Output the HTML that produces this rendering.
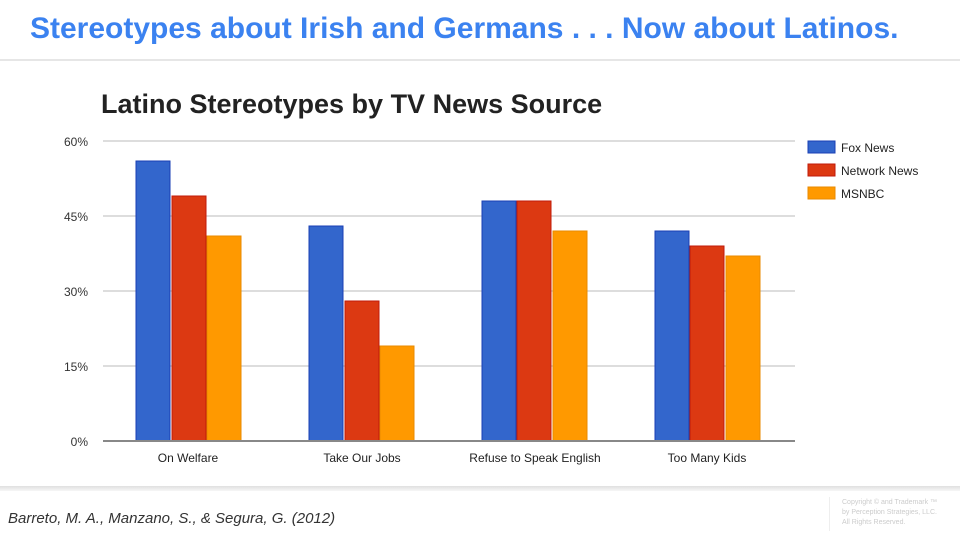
<!DOCTYPE html>
<html><head><meta charset="utf-8"><style>
body{margin:0;width:960px;height:540px;overflow:hidden;background:#fff;font-family:"Liberation Sans",sans-serif;position:relative}
.a{position:absolute}
</style></head><body>
<div class="a" style="left:30px;top:12px;font-size:30px;font-weight:bold;color:#3b82f0;white-space:nowrap">Stereotypes about Irish and Germans . . . Now about Latinos.</div>
<div class="a" style="left:0;top:59px;width:960px;height:2px;background:#e6e6e6"></div>
<svg class="a" style="left:0;top:0" width="960" height="540">
<text x="101" y="113" font-size="27" font-weight="bold" fill="#222" font-family="Liberation Sans">Latino Stereotypes by TV News Source</text>
<g stroke="#ddd" stroke-width="2">
<line x1="103" x2="795" y1="141" y2="141"/><line x1="103" x2="795" y1="216" y2="216"/>
<line x1="103" x2="795" y1="291" y2="291"/><line x1="103" x2="795" y1="366" y2="366"/>
</g>
<g font-size="12" fill="#333" text-anchor="end" font-family="Liberation Sans">
<text x="88" y="146">60%</text><text x="88" y="221">45%</text><text x="88" y="296">30%</text><text x="88" y="371">15%</text><text x="88" y="446">0%</text>
</g>
<g stroke-width="1">
<rect x="136" y="161" width="34" height="280" fill="#3366cc" stroke="#1a3fb5"/>
<rect x="172" y="196" width="34" height="245" fill="#dc3912" stroke="#c01a0a"/>
<rect x="207" y="236" width="34" height="205" fill="#ff9900" stroke="#e88a00"/>
<rect x="309" y="226" width="34" height="215" fill="#3366cc" stroke="#1a3fb5"/>
<rect x="345" y="301" width="34" height="140" fill="#dc3912" stroke="#c01a0a"/>
<rect x="380" y="346" width="34" height="95" fill="#ff9900" stroke="#e88a00"/>
<rect x="482" y="201" width="34" height="240" fill="#3366cc" stroke="#1a3fb5"/>
<rect x="517" y="201" width="34" height="240" fill="#dc3912" stroke="#c01a0a"/>
<rect x="553" y="231" width="34" height="210" fill="#ff9900" stroke="#e88a00"/>
<rect x="655" y="231" width="34" height="210" fill="#3366cc" stroke="#1a3fb5"/>
<rect x="690" y="246" width="34" height="195" fill="#dc3912" stroke="#c01a0a"/>
<rect x="726" y="256" width="34" height="185" fill="#ff9900" stroke="#e88a00"/>
</g>
<line x1="103" x2="795" y1="441" y2="441" stroke="#888" stroke-width="2"/>
<g font-size="12" fill="#222" text-anchor="middle" font-family="Liberation Sans">
<text x="188" y="462">On Welfare</text><text x="362" y="462">Take Our Jobs</text><text x="535" y="462">Refuse to Speak English</text><text x="707" y="462">Too Many Kids</text>
</g>
<rect x="808" y="141" width="27" height="12" fill="#3366cc" stroke="#1a3fb5"/>
<rect x="808" y="164" width="27" height="12" fill="#dc3912" stroke="#c01a0a"/>
<rect x="808" y="187" width="27" height="12" fill="#ff9900" stroke="#e88a00"/>
<g font-size="12" fill="#222" font-family="Liberation Sans">
<text x="841" y="152">Fox News</text><text x="841" y="175">Network News</text><text x="841" y="198">MSNBC</text>
</g>
</svg>
<div class="a" style="left:0;top:486px;width:960px;height:5px;background:linear-gradient(#e0e0e0,#f6f6f6)"></div>
<div class="a" style="left:8px;top:510px;font-size:15px;font-style:italic;color:#333">Barreto, M. A., Manzano, S., &amp; Segura, G. (2012)</div>
<div class="a" style="left:829px;top:497px;width:1px;height:34px;background:#eee"></div>
<div class="a" style="left:842px;top:498px;font-size:7px;line-height:10px;color:#ccc">Copyright © and Trademark ™<br>by Perception Strategies, LLC.<br>All Rights Reserved.</div>
</body></html>
